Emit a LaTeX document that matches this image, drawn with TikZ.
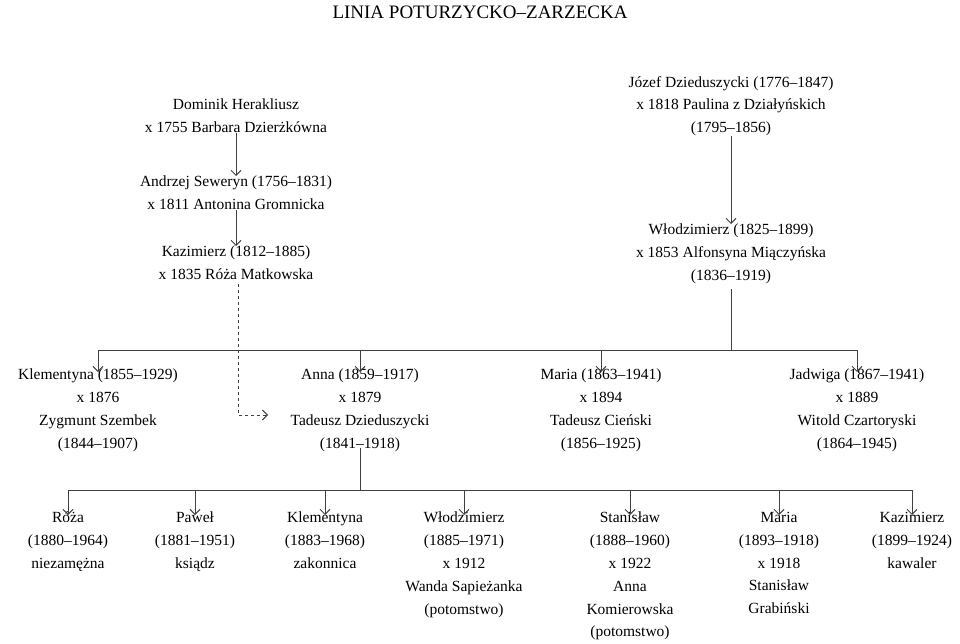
\documentclass[tikz,border=0pt]{standalone}
\usepackage{fontspec}
\setmainfont{Liberation Serif}
\usetikzlibrary{arrows.meta}
\tikzset{
  person/.style={anchor=north, align=center, inner sep=0pt, font=\fontsize{15.5}{22.8}\selectfont},
  line/.style={draw=black!75, line width=1pt},
  down/.style={line, -{Straight Barb[length=5pt,width=10pt]}},
}
\begin{document}
\begin{tikzpicture}[x=1pt,y=-1pt]
\useasboundingbox (0,0) rectangle (960,644);
\node[anchor=north, inner sep=0pt, font=\fontsize{19}{22}\selectfont] (title) at (480,6) {LINIA POTURZYCKO--ZARZECKA};

% left line
\node[person] (dominik) at (236,99) {Dominik Herakliusz\\x 1755 Barbara Dzierżkówna};
\node[person] (andrzej) at (236,176) {Andrzej Seweryn (1756--1831)\\x 1811 Antonina Gromnicka};
\node[person] (kazimierz) at (236,246) {Kazimierz (1812--1885)\\x 1835 Róża Matkowska};
\draw[down] (dominik.south) -- (andrzej.north);
\draw[down] (andrzej.south) -- (kazimierz.north);

% right line
\node[person] (jozef) at (731,76) {Józef Dzieduszycki (1776--1847)\\x 1818 Paulina z Działyńskich\\(1795--1856)};
\node[person] (wlodz) at (731,224) {Włodzimierz (1825--1899)\\x 1853 Alfonsyna Miączyńska\\(1836--1919)};
\draw[down] (jozef.south) -- (wlodz.north);

% children of Włodzimierz
\node[person] (klem) at (98,369) {Klementyna (1855--1929)\\x 1876\\Zygmunt Szembek\\(1844--1907)};
\node[person] (anna) at (360,369) {Anna (1859--1917)\\x 1879\\Tadeusz Dzieduszycki\\(1841--1918)};
\node[person] (maria) at (601,369) {Maria (1863--1941)\\x 1894\\Tadeusz Cieński\\(1856--1925)};
\node[person] (jadw) at (857,369) {Jadwiga (1867--1941)\\x 1889\\Witold Czartoryski\\(1864--1945)};
\coordinate (bar1) at (731,350);
\draw[line] (wlodz.south) ++(0,5) -- (bar1);
\draw[line] (klem.north |- bar1) -- (jadw.north |- bar1);
\foreach \c in {klem,anna,maria,jadw}
  \draw[down] (\c.north |- bar1) -- ([yshift=-3pt]\c.north);

% dashed link
\coordinate (dash1) at (238,415);
\draw[down, dashed] (kazimierz.south -| dash1) ++(0,4) -- (dash1) -- (268,415);

% children of Anna
\coordinate (bar2) at (360,490);
\draw[line] ([yshift=4pt]anna.south) -- (bar2);
\node[person] (roza) at (68,512) {Róża\\(1880--1964)\\niezamężna};
\node[person] (pawel) at (195,512) {Paweł\\(1881--1951)\\ksiądz};
\node[person] (klem2) at (325,512) {Klementyna\\(1883--1968)\\zakonnica};
\node[person] (wlodz2) at (464,512) {Włodzimierz\\(1885--1971)\\x 1912\\Wanda Sapieżanka\\(potomstwo)};
\node[person] (stan) at (630,512) {Stanisław\\(1888--1960)\\x 1922\\Anna\\Komierowska\\(potomstwo)};
\node[person] (maria2) at (779,512) {Maria\\(1893--1918)\\x 1918\\Stanisław\\Grabiński};
\node[person] (kazim2) at (912,512) {Kazimierz\\(1899--1924)\\kawaler};
\draw[line] (roza.north |- bar2) -- (kazim2.north |- bar2);
\foreach \c in {roza,pawel,klem2,wlodz2,stan,maria2,kazim2}
  \draw[down] (\c.north |- bar2) -- ([yshift=-3pt]\c.north);
\end{tikzpicture}
\end{document}
